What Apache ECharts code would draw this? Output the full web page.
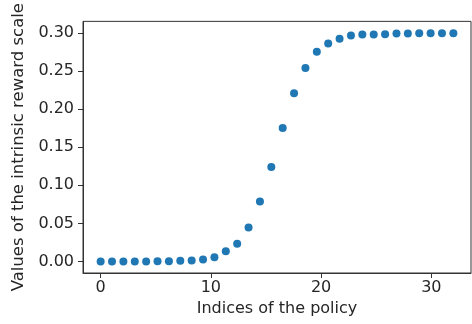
<!DOCTYPE html>
<html>
<head>
<meta charset="utf-8">
<script src="https://cdn.jsdelivr.net/npm/echarts@6/dist/echarts.min.js"></script>
<style>
html,body{margin:0;padding:0;background:#fff;}
#chart{width:472px;height:324px;}
</style>
</head>
<body>
<div id="chart"></div>
<script>
// x positions: 32 policies spread evenly from 0 to 32
const policyIndices = [0.000, 1.032, 2.065, 3.097, 4.129, 5.161, 6.194, 7.226, 8.258, 9.290, 10.323, 11.355, 12.387, 13.419, 14.452, 15.484, 16.516, 17.548, 18.581, 19.613, 20.645, 21.677, 22.710, 23.742, 24.774, 25.806, 26.839, 27.871, 28.903, 29.935, 30.968, 32.000];
const rewardScales = [0.0000, 0.0000, 0.0000, 0.0001, 0.0002, 0.0003, 0.0005, 0.0012, 0.0015, 0.0026, 0.0056, 0.0135, 0.0235, 0.0448, 0.0787, 0.1239, 0.1752, 0.2208, 0.2539, 0.2752, 0.2861, 0.2922, 0.2965, 0.2978, 0.2979, 0.2980, 0.2991, 0.2992, 0.2993, 0.2993, 0.2993, 0.2993];
const xTicks = [0, 10, 20, 30];
const yTicks = [0.00, 0.05, 0.10, 0.15, 0.20, 0.25, 0.30];
const xTitle = 'Indices of the policy';
const yTitle = 'Values of the intrinsic reward scale';

const chart = echarts.init(document.getElementById('chart'), null, {renderer: 'canvas'});
const font = 'DejaVu Sans';
const ink = '#262626';
chart.setOption({
  animation: false,
  backgroundColor: '#fff',
  grid: {left: 83, top: 20, right: 1, bottom: 51, show: true, borderColor: '#333', borderWidth: 1, backgroundColor: 'transparent'},
  xAxis: {
    type: 'value', min: -1.6, max: 33.6,
    name: xTitle, nameLocation: 'middle', nameGap: 27,
    nameTextStyle: {fontFamily: font, fontSize: 16, color: ink, verticalAlign: 'top'},
    axisLine: {show: true, onZero: false, lineStyle: {color: '#333', width: 1}},
    axisTick: {show: true, length: 5, inside: false, customValues: xTicks, lineStyle: {color: '#333'}},
    axisLabel: {customValues: xTicks, margin: 7, fontFamily: font, fontSize: 16, color: ink, formatter: v => String(Math.round(v))},
    splitLine: {show: false}
  },
  yAxis: {
    type: 'value', min: -0.015, max: 0.315,
    name: yTitle, nameLocation: 'middle', nameGap: 53,
    nameTextStyle: {fontFamily: font, fontSize: 16.5, color: ink},
    axisLine: {show: true, onZero: false, lineStyle: {color: '#333', width: 1}},
    axisTick: {show: true, length: 5, inside: false, customValues: yTicks, lineStyle: {color: '#333'}},
    axisLabel: {customValues: yTicks, margin: 9, fontFamily: font, fontSize: 16, color: ink, formatter: v => v.toFixed(2)},
    splitLine: {show: false}
  },
  series: [{
    type: 'scatter',
    data: policyIndices.map((x, i) => [x, rewardScales[i]]),
    symbol: 'circle', symbolSize: 8,
    itemStyle: {color: '#1f77b4', opacity: 1}
  }]
});
</script>
</body>
</html>
